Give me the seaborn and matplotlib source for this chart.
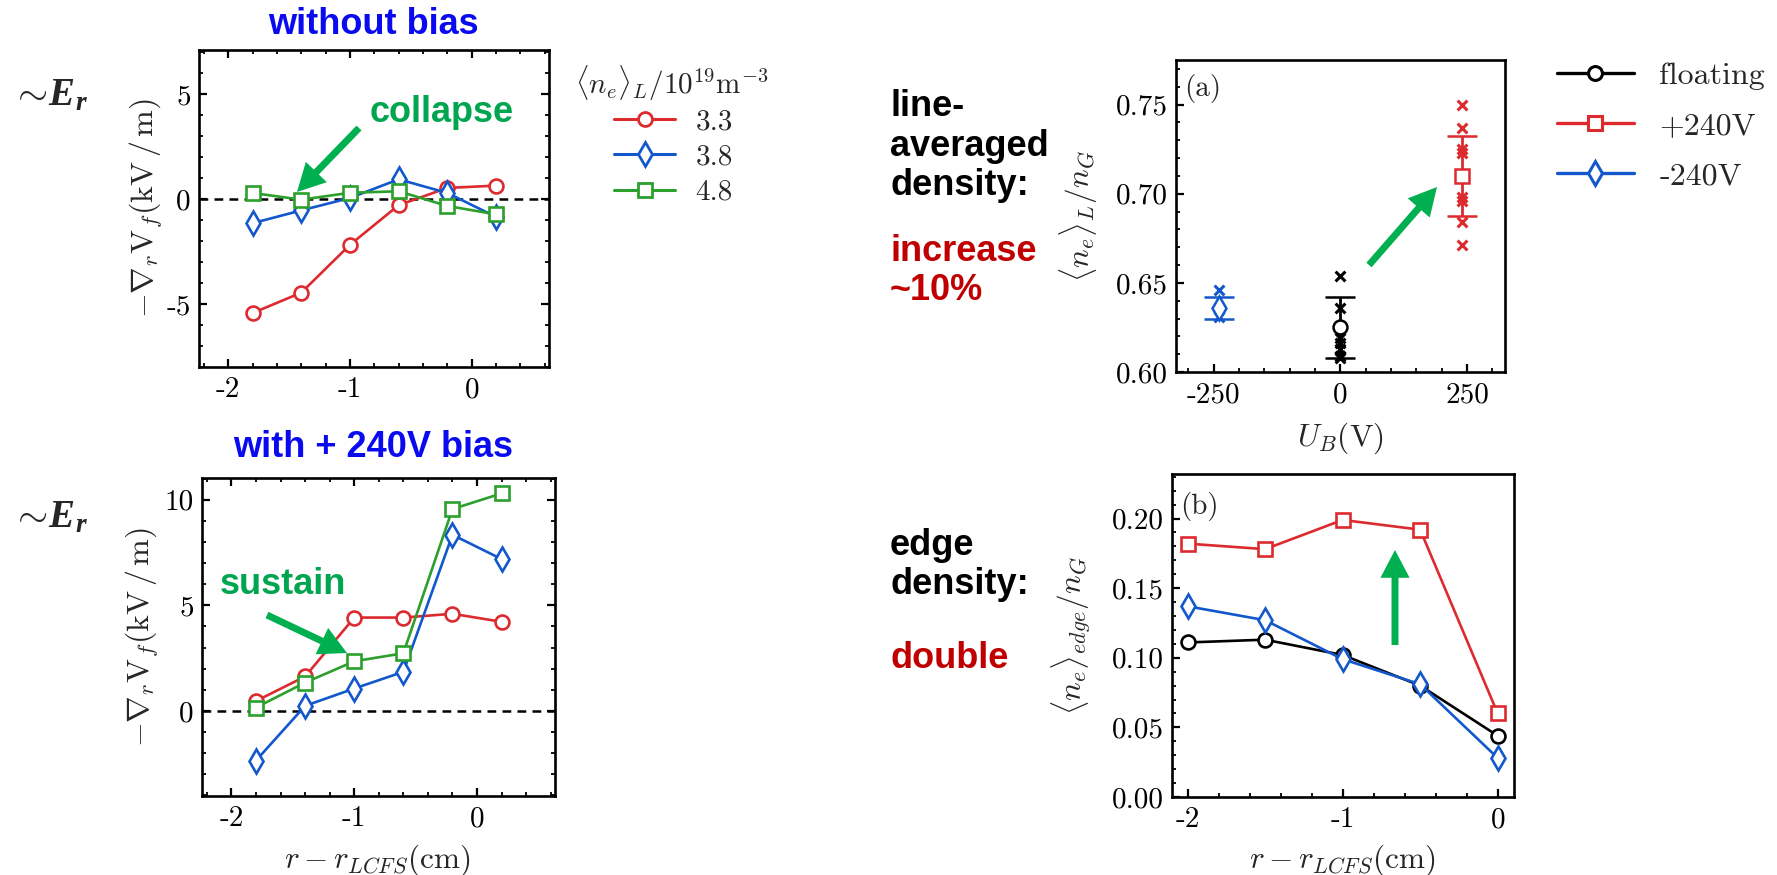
import os
import matplotlib
matplotlib.use("Agg")
import matplotlib.pyplot as plt
import seaborn as sns
from matplotlib.lines import Line2D
from matplotlib.patches import FancyArrowPatch
from matplotlib.font_manager import FontProperties
from matplotlib.ticker import MultipleLocator

# ---------------- data ----------------
# radial probe positions r - r_LCFS (cm)
r_probe = [-1.8, -1.4, -1.0, -0.6, -0.2, 0.2]
density_labels = ["3.3", "3.8", "4.8"]

# -grad_r V_f (kV/m), no bias
er_nobias_33 = [-5.43, -4.46, -2.18, -0.29, 0.53, 0.64]
er_nobias_38 = [-1.15, -0.54, 0.05, 0.94, 0.29, -0.85]
er_nobias_48 = [0.29, -0.03, 0.30, 0.37, -0.33, -0.73]

# -grad_r V_f (kV/m), +240 V bias
er_bias_33 = [0.47, 1.63, 4.42, 4.42, 4.60, 4.22]
er_bias_38 = [-2.35, 0.24, 1.06, 1.85, 8.34, 7.19]
er_bias_48 = [0.16, 1.34, 2.35, 2.73, 9.56, 10.30]

# line-averaged density vs bias voltage
bias_labels = ["floating", "+240V", "-240V"]
bias_voltage = [0, 240, -240]
nl_mean = [0.625, 0.710, 0.636]
nl_err = [0.017, 0.0225, 0.006]
nl_shots_floating = [0.654, 0.636, 0.619, 0.616, 0.613, 0.609, 0.608]
nl_shots_plus = [0.750, 0.737, 0.725, 0.723, 0.698, 0.696, 0.684, 0.671]
nl_shots_minus = [0.646, 0.631]

# edge density profile
r_edge = [-2.0, -1.5, -1.0, -0.5, 0.0]
ne_edge_floating = [0.111, 0.113, 0.102, 0.080, 0.044]
ne_edge_plus = [0.182, 0.178, 0.199, 0.192, 0.060]
ne_edge_minus = [0.137, 0.127, 0.099, 0.081, 0.028]

# tick positions and their printed labels
er_xticks = [-2, -1, 0]
er_xtick_labels = ["-2", "-1", "0"]
er_top_yticks = [-5, 0, 5]
er_top_ytick_labels = ["-5", "0", "5"]
er_bot_yticks = [0, 5, 10]
er_bot_ytick_labels = ["0", "5", "10"]
ub_ticks = [-250, 0, 250]
ub_tick_labels = ["-250", "0", "250"]
nl_ticks = [0.60, 0.65, 0.70, 0.75]
nl_tick_labels = ["0.60", "0.65", "0.70", "0.75"]
edge_xticks = [-2, -1, 0]
edge_xtick_labels = ["-2", "-1", "0"]
edge_yticks = [0.0, 0.05, 0.10, 0.15, 0.20]
edge_ytick_labels = ["0.00", "0.05", "0.10", "0.15", "0.20"]

# ---------------- style ----------------
sns.set_style("ticks")
plt.rcParams.update({
    "font.family": ["cmr10"],
    "mathtext.fontset": "cm",
    "axes.unicode_minus": False,
    "axes.linewidth": 1.9,
    "xtick.direction": "in",
    "ytick.direction": "in",
    "xtick.major.size": 6,
    "ytick.major.size": 6,
    "xtick.minor.size": 3,
    "ytick.minor.size": 3,
    "xtick.major.width": 1.6,
    "ytick.major.width": 1.6,
    "xtick.minor.width": 1.3,
    "ytick.minor.width": 1.3,
    "xtick.major.pad": 7,
    "ytick.major.pad": 6,
    "axes.labelsize": 22.5,
    "axes.edgecolor": "black",
    "xtick.color": "black",
    "ytick.color": "black",
    "mathtext.rm": "Liberation Serif",
    "mathtext.it": "Liberation Serif:italic",
    "mathtext.bf": "Liberation Serif:bold",
})
has_bfit = "mathtext.bfit" in plt.rcParams
if has_bfit:
    plt.rcParams["mathtext.bfit"] = "Liberation Serif:italic:bold"

CM_FILE = os.path.join(matplotlib.get_data_path(), "fonts", "ttf", "cmr10.ttf")
TICK_FP = FontProperties(fname=CM_FILE, size=21)
LEG_FP = FontProperties(fname=CM_FILE, size=21)
LEG_FP_BIG = FontProperties(fname=CM_FILE, size=23)

RED = "#DC2A2E"
BLUE = "#1258CC"
GREEN = "#2CA02C"
BLACK = "#000000"
ARROW_GREEN = "#00B050"
TEXT_GREEN = "#00A550"
TITLE_BLUE = "#0A0AF0"
DARK_RED = "#C00000"
SANS = "Liberation Sans"

W, H = 1777, 875
fig = plt.figure(figsize=(W / 100, H / 100), dpi=100)


def fx(x):
    return x / W


def fy(y):
    return 1 - y / H


def axes_px(left, top, right, bottom):
    return fig.add_axes([left / W, 1 - bottom / H, (right - left) / W, (bottom - top) / H])


def set_ticks(ax, xt, xl, yt, yl):
    ax.set_xticks(xt)
    ax.set_xticklabels(xl, fontproperties=TICK_FP)
    ax.set_yticks(yt)
    ax.set_yticklabels(yl, fontproperties=TICK_FP)


def draw_series(ax, x, y, color, marker, ms=10):
    sns.lineplot(x=x, y=y, ax=ax, color=color, marker=marker, markersize=ms,
                 markerfacecolor="white", markeredgecolor=color, markeredgewidth=1.9,
                 linewidth=1.9, legend=False, errorbar=None, sort=False)


series_style = [(RED, "o", 10), (BLUE, "d", 12), (GREEN, "s", 10)]

# ---------------- E_r panels ----------------
ax_top = axes_px(199, 50, 549, 367)
ax_bot = axes_px(202, 478, 555, 796)

for ax, data in [(ax_top, [er_nobias_33, er_nobias_38, er_nobias_48]),
                 (ax_bot, [er_bias_33, er_bias_38, er_bias_48])]:
    ax.axhline(0, color="black", ls=(0, (3.5, 2.5)), lw=1.8, zorder=1)
    for y, (c, m, ms) in zip(data, series_style):
        draw_series(ax, r_probe, y, c, m, ms)
    ax.set_xlim(-2.24, 0.635)
    ax.xaxis.set_minor_locator(MultipleLocator(0.2))
    ax.yaxis.set_minor_locator(MultipleLocator(1))
    ax.tick_params(which="both", top=True, right=True)
    ax.set_ylabel(r"$-\nabla_r \mathrm{V}_f(\mathrm{kV}\,/\,\mathrm{m})$", fontsize=23)
    ax.set_xlabel("")

ax_top.set_ylim(-8, 7.1)
set_ticks(ax_top, er_xticks, er_xtick_labels, er_top_yticks, er_top_ytick_labels)
ax_top.yaxis.set_label_coords(-0.097, 0.5)
ax_bot.set_ylim(-4.03, 11.03)
set_ticks(ax_bot, er_xticks, er_xtick_labels, er_bot_yticks, er_bot_ytick_labels)
ax_bot.yaxis.set_label_coords(-0.117, 0.5)
ax_bot.set_xlabel(r"$r-r_{LCFS}(\mathrm{cm})$")
ax_bot.xaxis.set_label_coords(0.496, -0.145)

# density legend (title drawn as its own text above the rows)
fig.text(fx(672), fy(83), r"$\langle n_e\rangle_L/10^{19}\mathrm{m}^{-3}$", fontsize=21,
         ha="center", va="center")
den_handles = [Line2D([], [], color=c, marker=m, ms=ms, mfc="white", mec=c, mew=2, lw=2.2)
               for c, m, ms in series_style]
fig.legend(den_handles, density_labels, loc="upper left", bbox_to_anchor=(fx(614), fy(109)),
           frameon=False, prop=LEG_FP, handlelength=2.1, handletextpad=0.7,
           labelspacing=0.3, borderpad=0, borderaxespad=0)

# ---------------- (a) line-averaged density ----------------
ax_a = axes_px(1176, 60, 1505, 372)
shots = [nl_shots_floating, nl_shots_plus, nl_shots_minus]
bias_style = [(BLACK, "o", 10), (RED, "s", 10), (BLUE, "d", 12)]
for v, s, (c, m, ms) in zip(bias_voltage, shots, bias_style):
    sns.scatterplot(x=[v] * len(s), y=s, ax=ax_a, marker="x", color=c, s=50,
                    linewidth=2.2, legend=False, zorder=2)
for v, mu, e, (c, m, ms) in zip(bias_voltage, nl_mean, nl_err, bias_style):
    ax_a.errorbar([v], [mu], yerr=[e], fmt=m, color=c, mfc="white", mec=c, ms=ms,
                  mew=1.8, capsize=11, capthick=2.2, elinewidth=2.0, zorder=3)
ax_a.set_xlim(-324, 325)
ax_a.set_ylim(0.60, 0.775)
set_ticks(ax_a, ub_ticks, ub_tick_labels, nl_ticks, nl_tick_labels)
ax_a.xaxis.set_minor_locator(MultipleLocator(50))
ax_a.yaxis.set_minor_locator(MultipleLocator(0.01))
ax_a.tick_params(which="both", top=False, right=False)
ax_a.set_xlabel(r"$U_B(\mathrm{V})$")
ax_a.set_ylabel(r"$\langle n_e\rangle_L/n_G$")
ax_a.xaxis.set_label_coords(0.499, -0.155)
ax_a.yaxis.set_label_coords(-0.23, 0.5)
ax_a.text(0.025, 0.91, "(a)", transform=ax_a.transAxes, fontproperties=LEG_FP,
          va="center", ha="left")

bias_handles = [Line2D([], [], color=c, marker=m, ms=ms, mfc="white", mec=c, mew=2.2, lw=2.4)
                for c, m, ms in bias_style]
fig.legend(bias_handles, bias_labels, loc="upper left", bbox_to_anchor=(fx(1557), fy(62)),
           frameon=False, prop=LEG_FP_BIG, handlelength=2.4, handletextpad=0.8,
           labelspacing=0.68, borderpad=0, borderaxespad=0)

# ---------------- (b) edge density ----------------
ax_b = axes_px(1172, 474, 1514, 797)
for y, (c, m, ms) in zip([ne_edge_floating, ne_edge_minus, ne_edge_plus],
                         [bias_style[0], bias_style[2], bias_style[1]]):
    draw_series(ax_b, r_edge, y, c, m, ms)
ax_b.set_xlim(-2.1, 0.105)
ax_b.set_ylim(0.0, 0.232)
set_ticks(ax_b, edge_xticks, edge_xtick_labels, edge_yticks, edge_ytick_labels)
ax_b.xaxis.set_minor_locator(MultipleLocator(0.2))
ax_b.yaxis.set_minor_locator(MultipleLocator(0.01))
ax_b.tick_params(which="both", top=False, right=False)
ax_b.set_xlabel(r"$r-r_{LCFS}(\mathrm{cm})$")
ax_b.set_ylabel(r"$\langle n_e\rangle_{edge}/n_G$")
ax_b.xaxis.set_label_coords(0.497, -0.14)
ax_b.yaxis.set_label_coords(-0.23, 0.5)
ax_b.text(0.025, 0.9, "(b)", transform=ax_b.transAxes, fontproperties=LEG_FP,
          va="center", ha="left")

# ---------------- annotations ----------------
er_label = (r"$\sim\!\mathbfit{E}_{\mathbfit{r}}$" if has_bfit
            else r"$\sim\!\mathbf{E}_{\mathbf{r}}$")
for yc in (95, 517):
    fig.text(fx(12), fy(yc), er_label, fontsize=28, ha="left", va="center",
             math_fontfamily="custom")

fig.text(fx(373), fy(25), "without bias", color=TITLE_BLUE, fontsize=26,
         fontweight="bold", family=SANS, ha="center", va="center")
fig.text(fx(373), fy(447), "with + 240V bias", color=TITLE_BLUE, fontsize=26,
         fontweight="bold", family=SANS, ha="center", va="center")
fig.text(fx(442), fy(113), "collapse", color=TEXT_GREEN, fontsize=26,
         fontweight="bold", family=SANS, ha="center", va="center")
fig.text(fx(283), fy(585), "sustain", color=TEXT_GREEN, fontsize=26,
         fontweight="bold", family=SANS, ha="center", va="center")

fig.text(fx(890), fy(146), "line-\naveraged\ndensity:", color="black", fontsize=26,
         fontweight="bold", family=SANS, ha="left", va="center", linespacing=1.15)
fig.text(fx(890), fy(271), "increase\n~10%", color=DARK_RED, fontsize=26,
         fontweight="bold", family=SANS, ha="left", va="center", linespacing=1.15)
fig.text(fx(890), fy(565), "edge\ndensity:", color="black", fontsize=26,
         fontweight="bold", family=SANS, ha="left", va="center", linespacing=1.15)
fig.text(fx(890), fy(659), "double", color=DARK_RED, fontsize=26,
         fontweight="bold", family=SANS, ha="left", va="center")


def green_arrow(tail, tip):
    arr = FancyArrowPatch((fx(tail[0]), fy(tail[1])), (fx(tip[0]), fy(tip[1])),
                          transform=fig.transFigure,
                          arrowstyle="simple,head_width=2.1,head_length=2.0,tail_width=0.5",
                          mutation_scale=10, color=ARROW_GREEN, lw=0, shrinkA=0, shrinkB=0)
    fig.add_artist(arr)


green_arrow((359, 128), (297, 192))
green_arrow((267, 615), (347, 653))
green_arrow((1369, 265), (1437, 187))
green_arrow((1395, 645), (1395, 550))

fig.savefig("out.png", dpi=100)
